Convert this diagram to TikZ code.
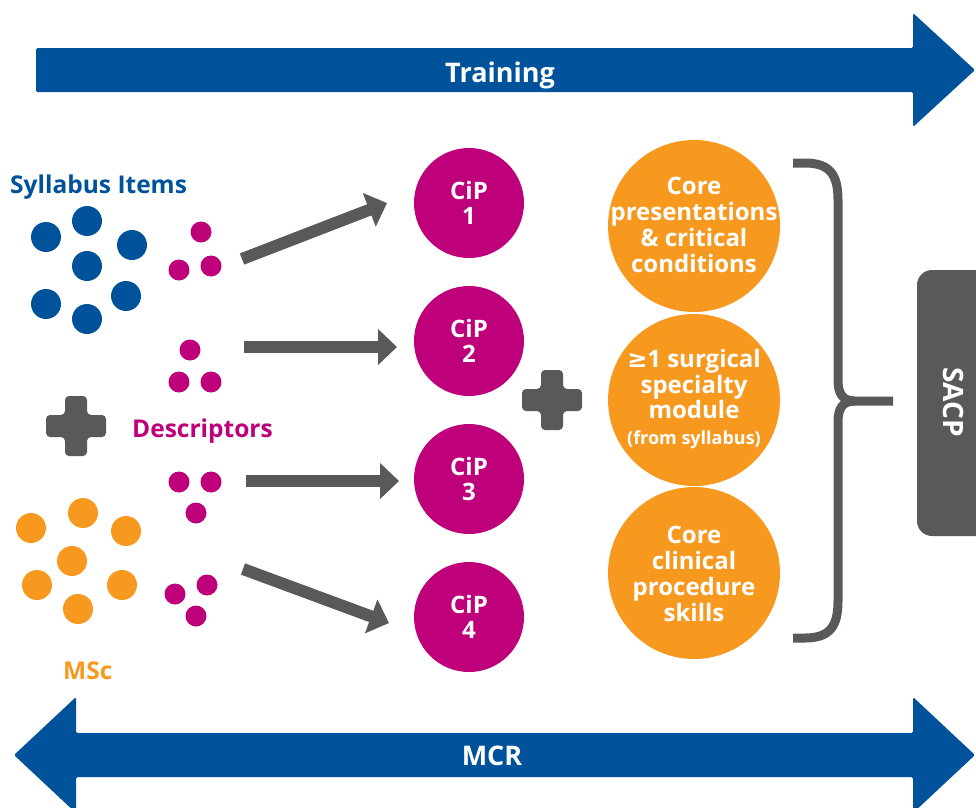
\documentclass[tikz,border=0pt]{standalone}
\usepackage{fontspec}
\setmainfont{Open Sans}
\newfontfamily\symfont{DejaVu Sans}
\usetikzlibrary{arrows.meta}
\definecolor{nblue}{HTML}{00539B}
\definecolor{nmag}{HTML}{BE007A}
\definecolor{norange}{HTML}{F7991F}
\definecolor{ngray}{HTML}{58595B}
\newcommand\plusshape[2]{%
  \fill[plusmark] (#1-11,#2-30) -- (#1+11,#2-30) -- (#1+11,#2-11) -- (#1+30,#2-11)
   -- (#1+30,#2+11) -- (#1+11,#2+11) -- (#1+11,#2+30) -- (#1-11,#2+30) -- (#1-11,#2+11)
   -- (#1-30,#2+11) -- (#1-30,#2-11) -- (#1-11,#2-11) -- cycle;}
\begin{document}
\begin{tikzpicture}[x=1pt,y=-1pt,
  bdot/.style={circle,fill=nblue,minimum size=30pt,inner sep=0pt},
  odot/.style={circle,fill=norange,minimum size=30pt,inner sep=0pt},
  mdot/.style={circle,fill=nmag,minimum size=21pt,inner sep=0pt},
  cip/.style={circle,fill=nmag,minimum size=110pt,inner sep=0pt,text=white,align=center,font=\bfseries\fontsize{24}{25}\selectfont},
  comp/.style={circle,fill=norange,minimum size=172pt,inner sep=0pt},
  comptext/.style={text=white,align=center,inner sep=0pt,font=\bfseries\fontsize{24}{25.8}\selectfont},
  garrow/.style={draw=ngray,line width=12pt,-{Triangle[length=19pt,width=35pt]}},
  bandarrow/.style={fill=nblue,rounded corners=1.5pt},
  bandtext/.style={text=white,font=\bfseries\fontsize{27}{30}\selectfont,inner sep=0pt},
  brace/.style={draw=ngray,line width=9pt},
  plusmark/.style={fill=ngray,rounded corners=4pt},
  lbl/.style={font=\bfseries\fontsize{24.5}{28}\selectfont,inner sep=0pt}]
\useasboundingbox (0,0) rectangle (976,807);
\clip (0,0) rectangle (976,807);

% band arrows
\fill[bandarrow] (36,48) -- (913,48) -- (913,13) -- (975,70) -- (913,127) -- (913,92) -- (36,92) -- cycle;
\node[bandtext,anchor=base] (training) at (500,82) {Training};
\fill[bandarrow] (76,733) -- (913,733) -- (913,697) -- (975,755) -- (913,813) -- (913,777)
  -- (76,777) -- (76,813) -- (14,755) -- (76,697) -- cycle;
\node[bandtext,anchor=base] (mcr) at (492,765) {MCR};

% labels
\node[lbl,text=nblue,anchor=base west] (syl) at (10,193) {Syllabus Items};
\node[lbl,text=nmag,anchor=base west] (desc) at (132,437) {Descriptors};
\node[lbl,text=norange,anchor=base west] (msc) at (63,679) {MSc};

% blue dots
\node[bdot] (b1) at (46,237) {};
\node[bdot] (b2) at (87,221) {};
\node[bdot] (b3) at (132,245) {};
\node[bdot] (b4) at (87,266) {};
\node[bdot] (b5) at (46,304) {};
\node[bdot] (b6) at (126,296) {};
\node[bdot] (b7) at (87,319) {};

% orange dots
\node[odot] (o1) at (31,528) {};
\node[odot] (o2) at (83,513) {};
\node[odot] (o3) at (126,531) {};
\node[odot] (o4) at (72,561) {};
\node[odot] (o5) at (37,585) {};
\node[odot] (o6) at (122,585) {};
\node[odot] (o7) at (78,609) {};

% magenta dot groups
\node[mdot] (m11) at (201,232) {};
\node[mdot] (m12) at (179,270) {};
\node[mdot] (m13) at (211,266) {};
\node[mdot] (m21) at (190,350) {};
\node[mdot] (m22) at (179,382) {};
\node[mdot] (m23) at (211,382) {};
\node[mdot] (m31) at (179,482) {};
\node[mdot] (m32) at (211,482) {};
\node[mdot] (m33) at (196,513) {};
\node[mdot] (m41) at (207,585) {};
\node[mdot] (m42) at (175,594) {};
\node[mdot] (m43) at (196,616) {};

% plus signs
\plusshape{76}{426}
\plusshape{552}{400}

% CiP circles
\node[cip] (cip1) at (469,203) {CiP\\1};
\node[cip] (cip2) at (469,341) {CiP\\2};
\node[cip] (cip3) at (469,479) {CiP\\3};
\node[cip] (cip4) at (469,617) {CiP\\4};

% grey arrows
\coordinate (g1a) at (242,259); \coordinate (g1b) at (387,203);
\coordinate (g2a) at (244,347); \coordinate (g2b) at (397,347);
\coordinate (g3a) at (246,481); \coordinate (g3b) at (399,481);
\coordinate (g4a) at (243,569); \coordinate (g4b) at (389,623);
\draw[garrow] (g1a) -- (g1b);
\draw[garrow] (g2a) -- (g2b);
\draw[garrow] (g3a) -- (g3b);
\draw[garrow] (g4a) -- (g4b);

% orange components
\node[comp] (c1) at (694,226) {};
\node[comp] (c2) at (694,400) {};
\node[comp] (c3) at (694,573) {};
\node[comptext] (c1t) at ([yshift=1]c1.center) {Core\\presentations\\\& critical\\conditions};
\node[comptext] (c2t) at ([yshift=1]c2.center) {{\symfont ≥}1 surgical\\specialty\\module\\{\fontsize{18}{20}\selectfont (from syllabus)}};
\node[comptext] (c3t) at ([yshift=-1]c3.center) {Core\\clinical\\procedure\\skills};

% brace
\draw[brace] (793,163) -- (805,163) .. controls (830,163) and (838,175) .. (838,200)
  -- (838,380) .. controls (838,393) and (842,401) .. (855,401) -- (893,401);
\draw[brace] (793,638) -- (805,638) .. controls (830,638) and (838,626) .. (838,601)
  -- (838,422) .. controls (838,409) and (842,401) .. (855,401);

% SACP
\fill[ngray,rounded corners=15pt] (917,270) rectangle (1000,536);
\node[bandtext,rotate=-90,font=\bfseries\fontsize{28}{30}\selectfont] (sacp) at (953,402) {SACP};
\end{tikzpicture}
\end{document}
